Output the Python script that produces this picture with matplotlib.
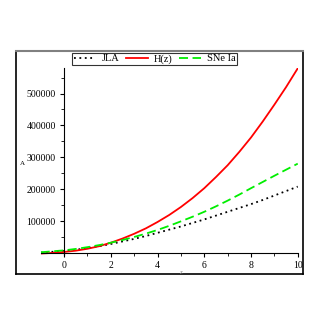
import numpy as np
import matplotlib.pyplot as plt
from matplotlib.lines import Line2D

plt.rcParams['font.family'] = ['Liberation Serif', 'DejaVu Serif']

# values
z = [-1, -0.5, 0, 0.5, 1, 1.5, 2, 2.5, 3, 3.5, 4, 4.5, 5, 5.5, 6, 6.5, 7, 7.5, 8, 8.5, 9, 9.5, 10]
jla = [1000, 3500, 6000, 10000, 15000, 21000, 28000, 36000, 44000, 53000, 63000, 73000, 83000,
       94000, 105000, 117000, 129000, 141000, 153000, 166000, 180000, 194000, 208000]
hz = [-2000, 0, 3000, 7000, 13000, 21000, 32000, 45000, 60000, 77000, 97000, 119000, 144000,
      172000, 203000, 238000, 275000, 317000, 362000, 412000, 465000, 520000, 579000]
sne = [2000, 5000, 8000, 12500, 18000, 24500, 32000, 40500, 50000, 60500, 72000, 85000, 99000,
       113500, 129000, 146000, 164000, 183000, 203000, 222500, 242000, 261000, 280000]

fig = plt.figure(figsize=(3.27, 3.27), dpi=100)
ax = fig.add_axes([0.1245, 0.2217, 0.786, 0.5703])

ax.plot(z, jla, color='black', linestyle=(0, (1, 2)), linewidth=1.3, label='JLA')
ax.plot(z, hz, color='red', linewidth=1.3, label='H(z)')
ax.plot(z, sne, color='#00ee00', linestyle=(0, (5, 2.5)), linewidth=1.3, label='SNe Ia')

ax.set_xlim(-1, 10)
ax.set_ylim(-5000, 580000)

# maple style axes through origin
ax.spines['left'].set_position(('data', 0))
ax.spines['bottom'].set_position(('data', 0))
ax.spines['right'].set_visible(False)
ax.spines['top'].set_visible(False)
ax.set_xticks([0, 2, 4, 6, 8, 10])
ax.set_xticks([1, 3, 5, 7, 9], minor=True)
ax.set_yticks([100000, 200000, 300000, 400000, 500000])
ax.set_yticks([50000, 150000, 250000, 350000, 450000, 550000], minor=True)
ax.tick_params(labelsize=7, length=3, width=0.8, pad=3)
ax.tick_params(which='minor', length=2, width=0.6)

fig.text(0.07, 0.50, 'A', fontsize=5, ha='center', va='center')
fig.text(0.553, 0.168, 'z', fontsize=5, color='gray', ha='center', va='center', style='italic')

leg = fig.legend(*ax.get_legend_handles_labels(), loc='upper center',
                 bbox_to_anchor=(0.4725, 0.838), ncol=3, fontsize=7.5,
                 frameon=True, fancybox=False, edgecolor='black', borderpad=0.1,
                 handlelength=2.1, handletextpad=0.6, columnspacing=0.6, borderaxespad=0)
leg.get_frame().set_linewidth(0.8)

# outer frame
x0, x1 = 16 / 327, 303 / 327
y0, y1 = 1 - 274 / 327, 1 - 51 / 327
fig.add_artist(Line2D([x0, x0], [y0, y1], color='black', linewidth=1.2))
fig.add_artist(Line2D([x1, x1], [y0, y1], color='black', linewidth=1.2))
fig.add_artist(Line2D([x0, x1], [y0, y0], color='black', linewidth=1.2))
fig.add_artist(Line2D([x0, x1], [y1, y1], color='gray', linewidth=1.5))

fig.savefig('out.png', dpi=100)
